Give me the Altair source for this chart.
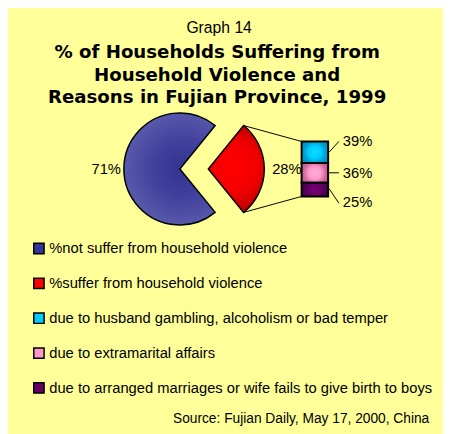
import math
import altair as alt
import pandas as pd

# ---------------- data ----------------
title_top = "Graph 14"
title_lines = ["% of Households Suffering from",
               "Household Violence and",
               "Reasons in Fujian Province, 1999"]
pie_cats = ["%suffer from household violence", "%not suffer from household violence"]
pie_vals = [28, 71]
bar_cats = ["due to husband gambling, alcoholism or bad temper",
            "due to extramarital affairs",
            "due to arranged marriages or wife fails to give birth to boys"]
bar_vals = [39, 36, 25]
legend_cats = ["%not suffer from household violence", "%suffer from household violence"] + bar_cats
legend_colors = ["#333399", "#ff0000", "#00ccff", "#ff99cc", "#660066"]
source_text = "Source: Fujian Daily, May 17, 2000, China"

# ---------------- layout / style ----------------
FONT = "Liberation Sans"
R = 57
blue_c = (175, 160)
red_c = (204, 160)
bar_x0, bar_x1 = 299, 326
bar_top, bar_bot = 132, 188

red_frac = pie_vals[0] / sum(pie_vals)
t0 = math.pi / 2 - red_frac * math.pi
theta_scale = alt.Scale(domain=[0, 1], range=[t0, t0 + 2 * math.pi])


def radial(stops, cx=0.5, cy=0.5, r=0.6):
    return {"gradient": "radial",
            "stops": [{"offset": o, "color": c} for o, c in stops],
            "x1": cx, "y1": cy, "r1": 0, "x2": cx, "y2": cy, "r2": r}


blue_grad = radial([(0, "#35358f"), (0.35, "#3d3d9b"), (1, "#6060b0")], cx=0.61, cy=0.5, r=0.6)
red_grad = radial([(0, "#ff0000"), (0.45, "#f20000"), (1, "#a00000")], cx=0.45, cy=0.48, r=0.65)
bar_grads = [
    radial([(0, "#10dcff"), (0.4, "#00ccff"), (0.72, "#0099cc"), (1, "#0088bb")], r=0.6),
    radial([(0, "#ffb0dc"), (0.4, "#ff99cc"), (0.72, "#cc6699"), (1, "#b85a8a")], r=0.6),
    radial([(0, "#760076"), (0.4, "#660066"), (0.72, "#4d004d"), (1, "#400040")], r=0.6),
]
label_dy = [-11, 0, 13]
leader_off = [(0, -11), (0, 0), (-1, 14)]

# ---------------- pie ----------------
pie_df = pd.DataFrame({"idx": [0, 1], "cat": pie_cats, "value": pie_vals})
pie_base = (
    alt.Chart(pie_df)
    .transform_joinaggregate(total="sum(value)")
    .transform_window(cum="sum(value)", sort=[alt.SortField("idx")], frame=[None, 0])
    .transform_calculate(
        start="(datum.cum - datum.value) / datum.total",
        stop="datum.cum / datum.total",
        mid="(datum.cum - datum.value / 2) / datum.total",
        label="datum.value + '%'",
    )
)

blue_arc = pie_base.transform_filter("datum.idx == 1").mark_arc(
    outerRadius=R, fill=blue_grad, stroke="black", strokeWidth=1.5
).encode(
    theta=alt.Theta("start:Q", scale=theta_scale),
    theta2="stop:Q",
    x=alt.value(blue_c[0]), y=alt.value(blue_c[1]),
)
red_arc = pie_base.transform_filter("datum.idx == 0").mark_arc(
    outerRadius=R, fill=red_grad, stroke="black", strokeWidth=1.5
).encode(
    theta=alt.Theta("start:Q", scale=theta_scale),
    theta2="stop:Q",
    x=alt.value(red_c[0]), y=alt.value(red_c[1]),
)
blue_lab = pie_base.transform_filter("datum.idx == 1").mark_text(
    radius=R + 3, align="right", baseline="middle", font=FONT, fontSize=15, color="black"
).encode(
    theta=alt.Theta("mid:Q", scale=theta_scale),
    text="label:N",
    x=alt.value(blue_c[0]), y=alt.value(blue_c[1]),
)
red_lab = pie_base.transform_filter("datum.idx == 0").mark_text(
    radius=R + 8, align="left", baseline="middle", font=FONT, fontSize=15, color="black"
).encode(
    theta=alt.Theta("mid:Q", scale=theta_scale),
    text="label:N",
    x=alt.value(red_c[0]), y=alt.value(red_c[1]),
)

# connector lines from exploded slice corners to bar corners
a_top = t0
a_bot = t0 + red_frac * 2 * math.pi
ctop = (red_c[0] + R * math.sin(a_top), red_c[1] - R * math.cos(a_top))
cbot = (red_c[0] + R * math.sin(a_bot), red_c[1] - R * math.cos(a_bot))
one = pd.DataFrame({"k": [0]})
conn_top = alt.Chart(one).mark_rule(color="black", strokeWidth=1).encode(
    x=alt.value(ctop[0]), y=alt.value(ctop[1]), x2=alt.value(bar_x0), y2=alt.value(bar_top))
conn_bot = alt.Chart(one).mark_rule(color="black", strokeWidth=1).encode(
    x=alt.value(cbot[0]), y=alt.value(cbot[1]), x2=alt.value(bar_x0), y2=alt.value(bar_bot))

# ---------------- bar of pie ----------------
bar_df = pd.DataFrame({"idx": [0, 1, 2], "cat": bar_cats, "value": bar_vals})
yscale = alt.Scale(domain=[0, 1], range=[bar_top, bar_bot], zero=False, nice=False)
bar_base = (
    alt.Chart(bar_df)
    .transform_joinaggregate(total="sum(value)")
    .transform_window(cum="sum(value)", sort=[alt.SortField("idx")], frame=[None, 0])
    .transform_calculate(
        start="(datum.cum - datum.value) / datum.total",
        stop="datum.cum / datum.total",
        mid="(datum.cum - datum.value / 2) / datum.total",
        label="datum.value + '%'",
    )
)
bar_layers = []
for i in range(len(bar_vals)):
    seg = bar_base.transform_filter(f"datum.idx == {i}")
    bar_layers.append(seg.mark_rect(fill=bar_grads[i], stroke="black", strokeWidth=2).encode(
        x=alt.value(bar_x0), x2=alt.value(bar_x1),
        y=alt.Y("start:Q", scale=yscale, axis=None), y2="stop:Q"))
    bar_layers.append(seg.mark_rule(color="black", strokeWidth=1,
                                    yOffset=leader_off[i][0], y2Offset=leader_off[i][1]).encode(
        x=alt.value(bar_x1 + 1), x2=alt.value(bar_x1 + 11),
        y=alt.Y("mid:Q", scale=yscale, axis=None), y2="mid:Q"))
    bar_layers.append(seg.mark_text(align="left", baseline="middle", dy=label_dy[i],
                                    font=FONT, fontSize=15, color="black").encode(
        x=alt.value(bar_x1 + 15),
        y=alt.Y("mid:Q", scale=yscale, axis=None), text="label:N"))

# ---------------- titles ----------------
top_title = alt.Chart(pd.DataFrame({"t": [title_top]})).mark_text(
    font=FONT, fontSize=16, align="center", baseline="alphabetic", color="black"
).encode(x=alt.value(215), y=alt.value(22), text="t:N")
bold_title = alt.Chart(pd.DataFrame({"t": title_lines, "i": list(range(len(title_lines)))})).mark_text(
    font="DejaVu Sans", fontSize=18.5, fontWeight="bold", align="center", baseline="alphabetic", color="black"
).encode(x=alt.value(213),
         y=alt.Y("i:Q", scale=alt.Scale(domain=[0, 2], range=[47, 93], zero=False, nice=False), axis=None),
         text="t:N")

# ---------------- legend ----------------
leg_df = pd.DataFrame({"i": list(range(len(legend_cats))), "cat": legend_cats})
leg_y = alt.Y("i:Q", scale=alt.Scale(domain=[0, 4], range=[241, 383], zero=False, nice=False), axis=None)
leg_sq = alt.Chart(leg_df).mark_square(size=110, stroke="black", strokeWidth=1.5, opacity=1).encode(
    x=alt.value(31.5), y=leg_y,
    fill=alt.Fill("cat:N", scale=alt.Scale(domain=legend_cats, range=legend_colors), legend=None))
leg_tx = alt.Chart(leg_df).mark_text(align="left", baseline="middle", font=FONT, fontSize=15,
                                     color="black").encode(
    x=alt.value(42), y=leg_y, text="cat:N")

source = alt.Chart(pd.DataFrame({"t": [source_text]})).mark_text(
    align="right", baseline="alphabetic", font=FONT, fontSize=14, color="black"
).encode(x=alt.value(429), y=alt.value(419), text="t:N")

chart = alt.layer(
    top_title, bold_title,
    conn_top, conn_bot,
    blue_arc, red_arc, blue_lab, red_lab,
    *bar_layers,
    leg_sq, leg_tx, source,
).resolve_scale(
    x="independent", y="independent", theta="independent", fill="independent"
).properties(
    width=443, height=426, padding=0, autosize="none", background="#ffff99"
).configure_view(strokeWidth=0)

chart.save("out.html", embed_options={"renderer": "svg", "actions": False})
